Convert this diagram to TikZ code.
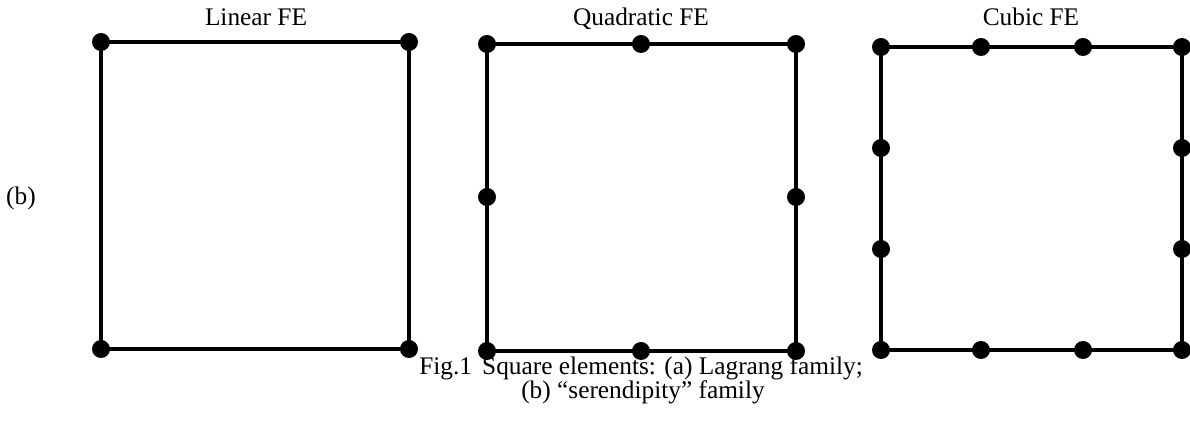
\documentclass[tikz,border=0pt]{standalone}
\usepackage{fontspec}
\setmainfont{Liberation Serif}
\usepackage{tikz}
\usetikzlibrary{positioning,calc}

\begin{document}
\begin{tikzpicture}[
  x=0.75pt, y=-0.75pt,
  nd/.style={circle, fill=black, inner sep=0pt, minimum size=13.5pt},
  edge/.style={line width=2.4pt, line join=miter},
  ttl/.style={anchor=base, font=\fontsize{19}{24}\selectfont}
]
\useasboundingbox (0,0) rectangle (1190,423);

% linear element
\node[nd] (l1) at (101,42) {};
\node[nd] (l2) at (409,42) {};
\node[nd] (l3) at (409,349) {};
\node[nd] (l4) at (101,349) {};
\draw[edge] (l1.center) -- (l2.center) -- (l3.center) -- (l4.center) -- cycle;
\node[ttl] (lt) at (256,26) {Linear FE};

% quadratic element
\node[nd] (q1) at (487,44) {};
\node[nd] (q2) at (641,44) {};
\node[nd] (q3) at (796,44) {};
\node[nd] (q4) at (796,197) {};
\node[nd] (q5) at (796,351) {};
\node[nd] (q6) at (641,351) {};
\node[nd] (q7) at (487,351) {};
\node[nd] (q8) at (487,197) {};
\draw[edge] (q1.center) -- (q3.center) -- (q5.center) -- (q7.center) -- cycle;
\node[ttl] (qt) at (641,26) {Quadratic FE};

% cubic element
\node[nd] (c1) at (881,47) {};
\node[nd] (c2) at (981,47) {};
\node[nd] (c3) at (1083,47) {};
\node[nd] (c4) at (1182,47) {};
\node[nd] (c5) at (1182,148) {};
\node[nd] (c6) at (1182,249) {};
\node[nd] (c7) at (1182,350) {};
\node[nd] (c8) at (1083,350) {};
\node[nd] (c9) at (981,350) {};
\node[nd] (c10) at (881,350) {};
\node[nd] (c11) at (881,249) {};
\node[nd] (c12) at (881,148) {};
\draw[edge] (c1.center) -- (c4.center) -- (c7.center) -- (c10.center) -- cycle;
\node[ttl] (ct) at (1031,26) {Cubic FE};

\node[ttl] (lbl) at (21,205) {(b)};
\node[ttl] (cap1) at (641,375) {Fig.1\hspace{0.4em}Square elements: (a) Lagrang family;};
\node[ttl] (cap2) at (643,399) {(b) ``serendipity'' family};
\end{tikzpicture}
\end{document}
